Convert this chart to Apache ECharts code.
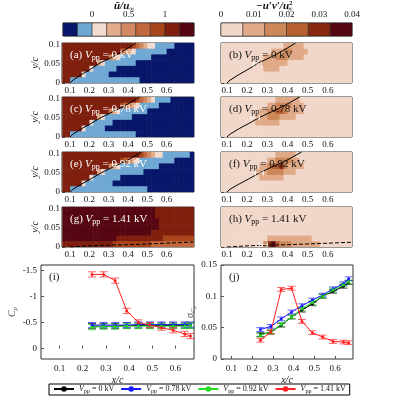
<!DOCTYPE html>
<html><head><meta charset="utf-8">
<script src="https://cdn.jsdelivr.net/npm/echarts@6/dist/echarts.min.js"></script>
<style>html,body{margin:0;padding:0;background:#fff}#main{width:400px;height:400px}</style>
</head><body><div id="main"></div>
<script>
var myChart = echarts.init(document.getElementById('main'));

// colour levels
var uColors = ['#08176a', '#6fa9d3', '#f3dccf', '#e2ac8d', '#d38a63', '#c2683d', '#a9461c', '#7f1f0e', '#570711'];
var uEdges = [-0.4, -0.2, 0, 0.2, 0.4, 0.6, 0.8, 1.0, 1.2, 1.4];
var uvColors = ['#f1d7c9', '#e0aa88', '#cc8859', '#b65f31', '#872911', '#570711'];
var uvEdges = [0, 0.00667, 0.01333, 0.02, 0.02667, 0.03333, 0.04];

// contour fields, rows from y/c=0.0975 down to 0.0075, columns x/c=0.07..0.73
var fieldA = [
  '7777777777777777776543221111100000',
  '7777777777777775432111111110000000',
  '7777777777774321111111100000000000',
  '7777777773211111111000000000000000',
  '7777777211111100000000000000000000',
  '7777721111110000000000000000000000',
  '7711111111111111111100000000000000'
];
var fieldC = [
  '7777777777777777777654321111000000',
  '7777777777777776543211111000000000',
  '7777777777774321111111000000000000',
  '7777777773211111110000000000000000',
  '7777777211111000000000000000000000',
  '7777721111100000000000000000000000',
  '7711111111111111111000000000000000'
];
var fieldE = [
  '7777777777777777777765432211111110',
  '7777777777777776543211111111100000',
  '7777777777774321111111111000000000',
  '7777777773211111111110000000000000',
  '7777777211111110000000000000000000',
  '7777721111111000000000000000000000',
  '7711111111111111111111000000000000'
];
var fieldG = [
  '8888888888888888888888887777777777',
  '8888888888888888888888887777777777',
  '8888888888888888888888888777777777',
  '8888888888888888888888888777777777',
  '8888888888888888888888877777777777',
  '8888888888888877777777777766666666',
  '7777777777777666666666655555555555'
];
var fieldB = [
  '0000000000000000111110000000000000',
  '0000000000000111221111000000000000',
  '0000000000011122211110000000000000',
  '0000000000111111100000000000000000',
  '0000000000011110000000000000000000',
  '0000000000000000000000000000000000',
  '0000000000000000000000000000000000'
];
var fieldD = [
  '0000000000000011111100000000000000',
  '0000000000001122221110000000000000',
  '0000000000112233211110000000000000',
  '0000000001112221111000000000000000',
  '0000000001111110000000000000000000',
  '0000000000000000000000000000000000',
  '0000000000000000000000000000000000'
];
var fieldF = [
  '0000000000000011111000000000000000',
  '0000000000001122221100000000000000',
  '0000000000112334211110000000000000',
  '0000000001112222111000000000000000',
  '0000000000111111000000000000000000',
  '0000000000000000000000000000000000',
  '0000000000000000000000000000000000'
];
var fieldH = [
  '0000000000000000000000000000000000',
  '0000000000000000000000000000000000',
  '0000000000000000000000000000000000',
  '0000000000000000000000000000000000',
  '0000000000000000000000000000000000',
  '0000000000001111111111100000000000',
  '0000000000024532221111111000000000'
];

// shear-layer curves and wall dashed lines
var curveA = [[0.1, 0], [0.115, 0.0075], [0.16, 0.0225], [0.21, 0.0375], [0.255, 0.0525], [0.316, 0.0675], [0.37, 0.0825], [0.44, 0.105]];
var curveC = [[0.1, 0], [0.115, 0.0075], [0.16, 0.022], [0.21, 0.036], [0.26, 0.051], [0.32, 0.066], [0.38, 0.081], [0.46, 0.105]];
var curveE = [[0.1, 0], [0.115, 0.0075], [0.16, 0.021], [0.21, 0.035], [0.26, 0.05], [0.32, 0.065], [0.385, 0.08], [0.47, 0.105]];
var curveG = [[0.1, 0], [0.2, 0.003], [0.3, 0.005], [0.4, 0.006], [0.5, 0.008], [0.6, 0.01], [0.74, 0.013]];
var markB = [[0.25, 0.05]], markD = [[0.24, 0.05]], markF = [[0.26, 0.05]], markH = [[0.28, 0.006]];

// Cp and sigma_Cp
var xc = [0.24, 0.29, 0.34, 0.39, 0.44, 0.49, 0.54, 0.59, 0.64, 0.665];
var cp0 = [-0.43, -0.43, -0.43, -0.44, -0.44, -0.44, -0.44, -0.44, -0.44, -0.44];
var cp078 = [-0.45, -0.45, -0.45, -0.45, -0.46, -0.46, -0.46, -0.46, -0.46, -0.46];
var cp092 = [-0.41, -0.42, -0.42, -0.43, -0.43, -0.43, -0.43, -0.43, -0.43, -0.44];
var cp141 = [-1.42, -1.42, -1.3, -0.72, -0.5, -0.45, -0.4, -0.35, -0.28, -0.24];
var sg0 = [0.039, 0.043, 0.054, 0.067, 0.078, 0.088, 0.1, 0.108, 0.116, 0.122];
var sg078 = [0.047, 0.052, 0.064, 0.075, 0.085, 0.094, 0.102, 0.112, 0.12, 0.128];
var sg092 = [0.038, 0.043, 0.055, 0.067, 0.08, 0.09, 0.1, 0.11, 0.118, 0.123];
var sg141 = [0.03, 0.043, 0.111, 0.113, 0.06, 0.042, 0.035, 0.028, 0.027, 0.026];

var FONT = 'Liberation Serif';
var CW = 0.02, CH = 0.015;

function cells(rows) {
  var out = [];
  rows.forEach(function (s, r) {
    for (var c = 0; c < s.length; c++) out.push([0.07 + CW * c, 0.0975 - CH * r, +s[c]]);
  });
  return out;
}
function fieldSeries(rows, gi, colors) {
  return {
    type: 'custom', xAxisIndex: gi, yAxisIndex: gi, silent: true, clip: true,
    data: cells(rows),
    renderItem: function (p, api) {
      var a = api.coord([api.value(0) - CW / 2, api.value(1) + CH / 2]);
      var b = api.coord([api.value(0) + CW / 2, api.value(1) - CH / 2]);
      return { type: 'rect', shape: { x: a[0], y: a[1], width: b[0] - a[0] + 0.6, height: b[1] - a[1] + 0.6 },
        style: { fill: colors[api.value(2)] } };
    }
  };
}
function barSeries(edges, colors, gi) {
  var d = [];
  for (var i = 0; i < colors.length; i++) d.push([edges[i], edges[i + 1], i]);
  return {
    type: 'custom', xAxisIndex: gi, yAxisIndex: gi, silent: true, data: d,
    renderItem: function (p, api) {
      var a = api.coord([api.value(0), 1]);
      var b = api.coord([api.value(1), 0]);
      return { type: 'rect', shape: { x: a[0], y: a[1], width: b[0] - a[0], height: b[1] - a[1] },
        style: { fill: colors[api.value(2)], stroke: '#222', lineWidth: 0.5 } };
    }
  };
}
function lineSeries(pts, gi, dashed) {
  return { type: 'line', xAxisIndex: gi, yAxisIndex: gi, data: pts, showSymbol: false, silent: true,
    lineStyle: { color: '#000', width: 1, type: dashed ? 'dashed' : 'solid' }, z: 5 };
}
function markSeries(pts, gi) {
  return { type: 'scatter', xAxisIndex: gi, yAxisIndex: gi, data: pts, silent: true, z: 6,
    symbol: 'path://M0,0L0,10M0,5L10,5M10,0L10,10', symbolSize: [8, 5],
    itemStyle: { color: 'none', borderColor: '#fff', borderWidth: 1 } };
}
function errSeries(name, xs, ys, gi, color, eb, cap) {
  var d = xs.map(function (x, i) { return [x, ys[i]]; });
  return [{
    name: name, type: 'line', xAxisIndex: gi, yAxisIndex: gi, data: d, symbol: 'circle', symbolSize: 3,
    itemStyle: { color: color }, lineStyle: { color: color, width: 1 }, z: 4
  }, {
    type: 'custom', xAxisIndex: gi, yAxisIndex: gi, data: d, silent: true, z: 3,
    renderItem: function (p, api) {
      var t = api.coord([api.value(0), api.value(1) + eb]);
      var b = api.coord([api.value(0), api.value(1) - eb]);
      var st = { stroke: color, lineWidth: 1, opacity: 0.7 };
      return { type: 'group', children: [
        { type: 'line', shape: { x1: t[0], y1: t[1], x2: b[0], y2: b[1] }, style: st },
        { type: 'line', shape: { x1: t[0] - cap, y1: t[1], x2: t[0] + cap, y2: t[1] }, style: st },
        { type: 'line', shape: { x1: b[0] - cap, y1: b[1], x2: b[0] + cap, y2: b[1] }, style: st }
      ] };
    }
  }];
}

var lab = { color: '#111', fontFamily: FONT, fontSize: 9 };
var xTicks = [0.1, 0.2, 0.3, 0.4, 0.5, 0.6];
function fieldX(gi, isRight) {
  return { type: 'value', gridIndex: gi, min: isRight ? 0.07 : 0.058, max: isRight ? 0.72 : 0.742,
    axisLine: { show: false }, splitLine: { show: false },
    axisTick: { inside: true, length: 3, customValues: xTicks, lineStyle: { color: '#444' } },
    axisLabel: Object.assign({ customValues: xTicks, margin: 3 }, lab) };
}
function fieldY(gi, showLab) {
  return { type: 'value', gridIndex: gi, min: 0, max: 0.105,
    name: showLab ? 'y/c' : '', nameLocation: 'middle', nameGap: 22,
    nameTextStyle: { fontFamily: FONT, fontStyle: 'italic', fontSize: 10, color: '#111' },
    axisLine: { show: false }, splitLine: { show: false },
    axisTick: { inside: true, length: 3, customValues: [0, 0.05, 0.1], lineStyle: { color: '#444' } },
    axisLabel: Object.assign({ show: showLab, customValues: [0, 0.05, 0.1], margin: 2 }, lab) };
}

var lefts = [62, 221], tops = [43, 97, 152, 207];
var grids = [
  { left: 63, top: 23, width: 131, height: 13 },
  { left: 221, top: 23, width: 131, height: 13 }
];
tops.forEach(function (t) {
  grids.push({ left: 62, top: t, width: 132, height: 40 });
  grids.push({ left: 221, top: t, width: 131, height: 40 });
});
grids.push({ left: 41, top: 265, width: 153, height: 94 });
grids.push({ left: 221, top: 265, width: 132, height: 94 });
grids.forEach(function (g) {
  g.show = true; g.borderColor = '#333'; g.borderWidth = 1; g.backgroundColor = 'transparent';
  g.containLabel = false; g.outerBoundsMode = 'none';
});

var xAxes = [
  { type: 'value', gridIndex: 0, min: -0.4, max: 1.4, position: 'top', splitLine: { show: false }, axisLine: { show: false },
    axisTick: { show: false }, axisLabel: Object.assign({ customValues: [0, 0.5, 1], margin: 4 }, lab) },
  { type: 'value', gridIndex: 1, min: 0, max: 0.04, position: 'top', splitLine: { show: false }, axisLine: { show: false },
    axisTick: { show: false }, axisLabel: Object.assign({ customValues: [0, 0.01, 0.02, 0.03, 0.04], margin: 4 }, lab) }
];
var yAxes = [
  { type: 'value', gridIndex: 0, min: 0, max: 1, show: false },
  { type: 'value', gridIndex: 1, min: 0, max: 1, show: false }
];
for (var k = 0; k < 8; k++) {
  xAxes.push(fieldX(k + 2, k % 2 === 1));
  yAxes.push(fieldY(k + 2, k % 2 === 0));
}
var bx = [0.1, 0.2, 0.3, 0.4, 0.5, 0.6];
xAxes.push({ type: 'value', gridIndex: 10, min: 0.02, max: 0.68, splitLine: { show: false }, axisLine: { show: false },
  axisTick: { inside: true, length: 3, customValues: bx }, axisLabel: Object.assign({ customValues: bx, margin: 5 }, lab),
  name: 'x/c', nameLocation: 'middle', nameGap: 16, nameTextStyle: { fontFamily: FONT, fontStyle: 'italic', fontSize: 10, color: '#111' } });
xAxes.push({ type: 'value', gridIndex: 11, min: 0.05, max: 0.686, splitLine: { show: false }, axisLine: { show: false },
  axisTick: { inside: true, length: 3, customValues: bx }, axisLabel: Object.assign({ customValues: bx, margin: 5 }, lab),
  name: 'x/c', nameLocation: 'middle', nameGap: 16, nameTextStyle: { fontFamily: FONT, fontStyle: 'italic', fontSize: 10, color: '#111' } });
yAxes.push({ type: 'value', gridIndex: 10, min: -1.6, max: 0.2, inverse: true, splitLine: { show: false }, axisLine: { show: false },
  axisTick: { inside: true, length: 3, customValues: [-1.5, -1, -0.5, 0] },
  axisLabel: Object.assign({ customValues: [-1.5, -1, -0.5, 0], margin: 4 }, lab),
  name: '{i|C}{s|p}', nameLocation: 'middle', nameGap: 20,
  nameTextStyle: { rich: { i: { fontFamily: FONT, fontStyle: 'italic', fontSize: 10 }, s: { fontFamily: FONT, fontStyle: 'italic', fontSize: 7, padding: [5, 0, 0, 0] } } } });
yAxes.push({ type: 'value', gridIndex: 11, min: 0, max: 0.15, splitLine: { show: false }, axisLine: { show: false },
  axisTick: { inside: true, length: 3, customValues: [0, 0.05, 0.1, 0.15] },
  axisLabel: Object.assign({ customValues: [0, 0.05, 0.1, 0.15], margin: 4 }, lab),
  name: '{i|σ}{j|C}{s|p}', nameLocation: 'middle', nameGap: 17,
  nameTextStyle: { rich: { i: { fontFamily: FONT, fontStyle: 'italic', fontSize: 10 }, j: { fontFamily: FONT, fontStyle: 'italic', fontSize: 7, padding: [5, 0, 0, 0] }, s: { fontFamily: FONT, fontStyle: 'italic', fontSize: 5, padding: [8, 0, 0, 0] } } } });

var series = [
  barSeries(uEdges, uColors, 0), barSeries(uvEdges, uvColors, 1),
  fieldSeries(fieldA, 2, uColors), fieldSeries(fieldB, 3, uvColors),
  fieldSeries(fieldC, 4, uColors), fieldSeries(fieldD, 5, uvColors),
  fieldSeries(fieldE, 6, uColors), fieldSeries(fieldF, 7, uvColors),
  fieldSeries(fieldG, 8, uColors), fieldSeries(fieldH, 9, uvColors),
  lineSeries(curveA, 2), lineSeries(curveA, 3),
  lineSeries(curveC, 4), lineSeries(curveC, 5),
  lineSeries(curveE, 6), lineSeries(curveE, 7),
  lineSeries(curveG, 8, true), lineSeries(curveG, 9, true),
  markSeries(markB, 3), markSeries(markD, 5), markSeries(markF, 7), markSeries(markH, 9)
];
var names = ['V0', 'V078', 'V092', 'V141'];
var cols = ['#000000', '#1a1aff', '#22dd22', '#ff2020'];
[cp0, cp078, cp092, cp141].forEach(function (v, i) { series = series.concat(errSeries(names[i], xc, v, 10, cols[i], 0.05, 4)); });
[sg0, sg078, sg092, sg141].forEach(function (v, i) { series = series.concat(errSeries(names[i], xc, v, 11, cols[i], 0.003, 4)); });

var panelTxt = [['(a)', '0'], ['(b)', '0'], ['(c)', '0.78'], ['(d)', '0.78'], ['(e)', '0.92'], ['(f)', '0.92'], ['(g)', '1.41'], ['(h)', '1.41']];
var titles = panelTxt.map(function (p, i) {
  var c = i % 2 === 0 ? '#fff' : '#111';
  return { text: p[0] + ' {i|V}{s|pp} = ' + p[1] + ' kV', left: lefts[i % 2] + 3, top: tops[Math.floor(i / 2)] + 1,
    textStyle: { fontFamily: FONT, fontSize: 11, fontWeight: 'normal', color: c,
      rich: { i: { fontFamily: FONT, fontStyle: 'italic', fontSize: 11, color: c }, s: { fontFamily: FONT, fontSize: 8, color: c, padding: [5, 0, 0, 0] } } } };
});
titles.push({ text: '(i)', left: 44, top: 267, textStyle: { fontFamily: FONT, fontSize: 11, fontWeight: 'normal', color: '#111' } });
titles.push({ text: '(j)', left: 224, top: 267, textStyle: { fontFamily: FONT, fontSize: 11, fontWeight: 'normal', color: '#111' } });
titles.push({ text: '{o|ū/u}{s|∞}', left: 114, top: 0, padding: 0,
  textStyle: { rich: { o: { fontFamily: FONT, fontStyle: 'italic', fontSize: 11, color: '#111' }, s: { fontFamily: FONT, fontSize: 7, color: '#111', padding: [6, 0, 0, 0] } } } });
titles.push({ text: '{n|−u′v′/u}{p|2}{s|∞}', left: 256, top: 0, padding: 0,
  textStyle: { rich: { n: { fontFamily: FONT, fontStyle: 'italic', fontSize: 11, color: '#111' }, p: { fontFamily: FONT, fontSize: 7, color: '#111', padding: [0, 0, 6, 0] }, s: { fontFamily: FONT, fontSize: 7, color: '#111', padding: [6, 0, 0, -5] } } } });

var legendLabels = { V0: '0', V078: '0.78', V092: '0.92', V141: '1.41' };
var option = {
  backgroundColor: '#fff',
  animation: false,
  title: titles,
  grid: grids,
  xAxis: xAxes,
  yAxis: yAxes,
  legend: {
    data: names, left: 49, top: 384, width: 320, itemGap: 6, itemWidth: 20, itemHeight: 7,
    borderColor: '#000', borderWidth: 1, padding: [1, 4],
    formatter: function (n) { return '{i|V}{s|pp} = ' + legendLabels[n] + ' kV'; },
    textStyle: { fontFamily: FONT, fontSize: 8, color: '#111',
      rich: { i: { fontFamily: FONT, fontStyle: 'italic', fontSize: 8 }, s: { fontFamily: FONT, fontSize: 6, padding: [4, 0, 0, 0] } } }
  },
  series: series
};
myChart.setOption(option);
</script></body></html>
